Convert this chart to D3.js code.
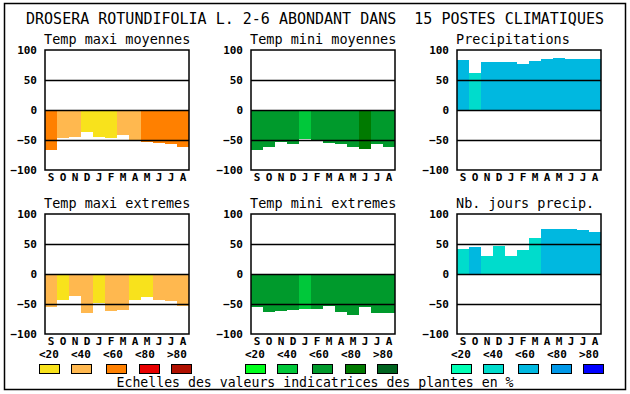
<!DOCTYPE html>
<html>
<head>
<meta charset="utf-8">
<script src="https://cdn.jsdelivr.net/npm/d3@7"></script>
<style>
	body { margin: 0; background: #fff; }
	svg { display: block; font-family: "DejaVu Sans Mono", monospace; }
	.bold { font-weight: bold; font-size: 11px; }
</style>
</head>
<body>
<div id="chart"></div>
<script>
	// ----------------------------------------
	// DATA

	var months = ["S", "O", "N", "D", "J", "F", "M", "A", "M", "J", "J", "A"];
	var yTicks = [100, 50, 0, -50, -100];
	var gridTicks = [50, 0, -50];
	var classLabels = ["<20", "<40", "<60", "<80", ">80"];

	var orangeScale = ["#f8e21c", "#ffb84f", "#ff8000", "#e80000", "#b01000"];
	var greenScale = ["#00ff1c", "#00c83a", "#009a2c", "#007a00", "#006420"];
	var blueScale = ["#00ffb4", "#00dccc", "#00b8e0", "#0098e8", "#0000ff"];

	var tmaxMoyValues = [-66, -46, -45, -36, -44.5, -46, -41.5, -52, -52.5, -54.5, -56, -61];
	var tmaxMoyClass = [2, 1, 1, 0, 0, 0, 1, 1, 2, 2, 2, 2];

	var tminMoyValues = [-66, -61, -53, -56, -49, -51, -54.5, -56, -61, -64.5, -56, -61];
	var tminMoyClass = [2, 2, 2, 2, 1, 2, 2, 2, 2, 3, 2, 2];

	var precipValues = [84, 62, 80, 80, 80, 77, 82, 85, 87, 85, 85, 85];
	var precipClass = [2, 1, 2, 2, 2, 2, 2, 2, 2, 2, 2, 2];

	var tmaxExtValues = [-55.5, -42.5, -36, -65.5, -48, -62, -60.5, -44, -38, -42.5, -45.5, -54];
	var tmaxExtClass = [1, 0, 1, 1, 0, 1, 1, 0, 0, 1, 1, 1];

	var tminExtValues = [-55.5, -64, -62, -60.5, -57.5, -57.5, -54, -64, -67.5, -55.5, -65.5, -65.5];
	var tminExtClass = [2, 2, 2, 2, 1, 2, 2, 2, 2, 2, 2, 2];

	var joursValues = [42, 45.5, 30.5, 47, 30.5, 40.5, 60.5, 75.5, 75.5, 75.5, 74, 70.5];
	var joursClass = [1, 2, 1, 1, 1, 1, 1, 2, 2, 2, 2, 2];

	// ----------------------------------------
	// LAYOUT

	var width = 630;
	var height = 394;
	var plotW = 144;
	var plotH = 120;

	var svg = d3.select("#chart").append("svg")
		.attr("width", width)
		.attr("height", height);

	// outer frame
	svg.append("rect")
		.attr("x", 4.5).attr("y", 3.5)
		.attr("width", 621).attr("height", 386)
		.attr("fill", "none").attr("stroke", "#000").attr("stroke-width", 1.5);

	svg.append("text")
		.attr("x", 315).attr("y", 24)
		.attr("text-anchor", "middle")
		.style("font-size", "15px")
		.style("white-space", "pre")
		.text("DROSERA ROTUNDIFOLIA L. 2-6 ABONDANT DANS  15 POSTES CLIMATIQUES");

	var x = d3.scaleBand().domain(d3.range(12)).range([0, plotW]).padding(0);
	var y = d3.scaleLinear().domain([-100, 100]).range([plotH, 0]);

	function drawPanel(left, top, title, values, classes, palette) {
		var g = svg.append("g").attr("transform", "translate(" + left + "," + top + ")");

		g.append("text")
			.attr("x", -1).attr("y", -6)
			.style("font-size", "13.5px")
			.text(title);

		g.selectAll("rect.bar")
			.data(values)
			.enter().append("rect")
			.attr("class", "bar")
			.attr("x", function (d, i) { return x(i); })
			.attr("width", x.bandwidth())
			.attr("y", function (d) { return y(Math.max(0, d)); })
			.attr("height", function (d) { return Math.abs(y(d) - y(0)); })
			.attr("fill", function (d, i) { return palette[classes[i]]; })
			.attr("shape-rendering", "crispEdges");

		// grid lines at 50, 0, -50
		g.append("g")
			.call(d3.axisLeft(y).tickValues(gridTicks).tickSize(-plotW).tickFormat(""))
			.call(function (a) { a.select(".domain").remove(); })
			.selectAll("line").attr("stroke", "#000").attr("stroke-width", 1.5);

		g.append("rect")
			.attr("width", plotW).attr("height", plotH)
			.attr("fill", "none").attr("stroke", "#000").attr("stroke-width", 1.5);

		// y labels
		g.append("g")
			.attr("class", "bold")
			.call(d3.axisLeft(y).tickValues(yTicks).tickSize(0).tickPadding(8))
			.call(function (a) { a.select(".domain").remove(); })
			.selectAll("text").attr("fill", "#000").style("font-family", "DejaVu Sans Mono").style("font-size", "11px").style("font-weight", "bold");

		// months
		g.append("g")
			.attr("transform", "translate(0," + plotH + ")")
			.call(d3.axisBottom(x).tickSize(0).tickPadding(3).tickFormat(function (i) { return months[i]; }))
			.call(function (a) { a.select(".domain").remove(); })
			.selectAll("text").attr("fill", "#000").style("font-family", "DejaVu Sans Mono").style("font-size", "11px").style("font-weight", "bold");
	}

	drawPanel(45, 50, "Temp maxi moyennes", tmaxMoyValues, tmaxMoyClass, orangeScale);
	drawPanel(251, 50, "Temp mini moyennes", tminMoyValues, tminMoyClass, greenScale);
	drawPanel(457, 50, "Precipitations", precipValues, precipClass, blueScale);
	drawPanel(45, 214, "Temp maxi extremes", tmaxExtValues, tmaxExtClass, orangeScale);
	drawPanel(251, 214, "Temp mini extremes", tminExtValues, tminExtClass, greenScale);
	drawPanel(457, 214, "Nb. jours precip.", joursValues, joursClass, blueScale);

	// ----------------------------------------
	// LEGENDS

	var labelOffsets = [-6, 26, 58, 90, 122];
	var boxOffsets = [-6, 26, 61, 94, 126];

	function drawLegend(left, palette) {
		var g = svg.append("g").attr("transform", "translate(" + left + ",0)");
		g.selectAll("text")
			.data(classLabels)
			.enter().append("text")
			.attr("x", function (d, i) { return labelOffsets[i]; })
			.attr("y", 358)
			.style("font-size", "11px").style("font-weight", "bold")
			.text(function (d) { return d; });
		g.selectAll("rect")
			.data(palette)
			.enter().append("rect")
			.attr("x", function (d, i) { return boxOffsets[i] + 0.5; })
			.attr("y", 364.5)
			.attr("width", 20).attr("height", 9)
			.attr("fill", function (d) { return d; })
			.attr("stroke", "#000").attr("stroke-width", 1);
	}

	drawLegend(45, orangeScale);
	drawLegend(251, greenScale);
	drawLegend(457, blueScale);

	svg.append("text")
		.attr("x", 315).attr("y", 386.5)
		.attr("text-anchor", "middle")
		.style("font-size", "13.2px")
		.text("Echelles des valeurs indicatrices des plantes en %");
</script>
</body>
</html>
